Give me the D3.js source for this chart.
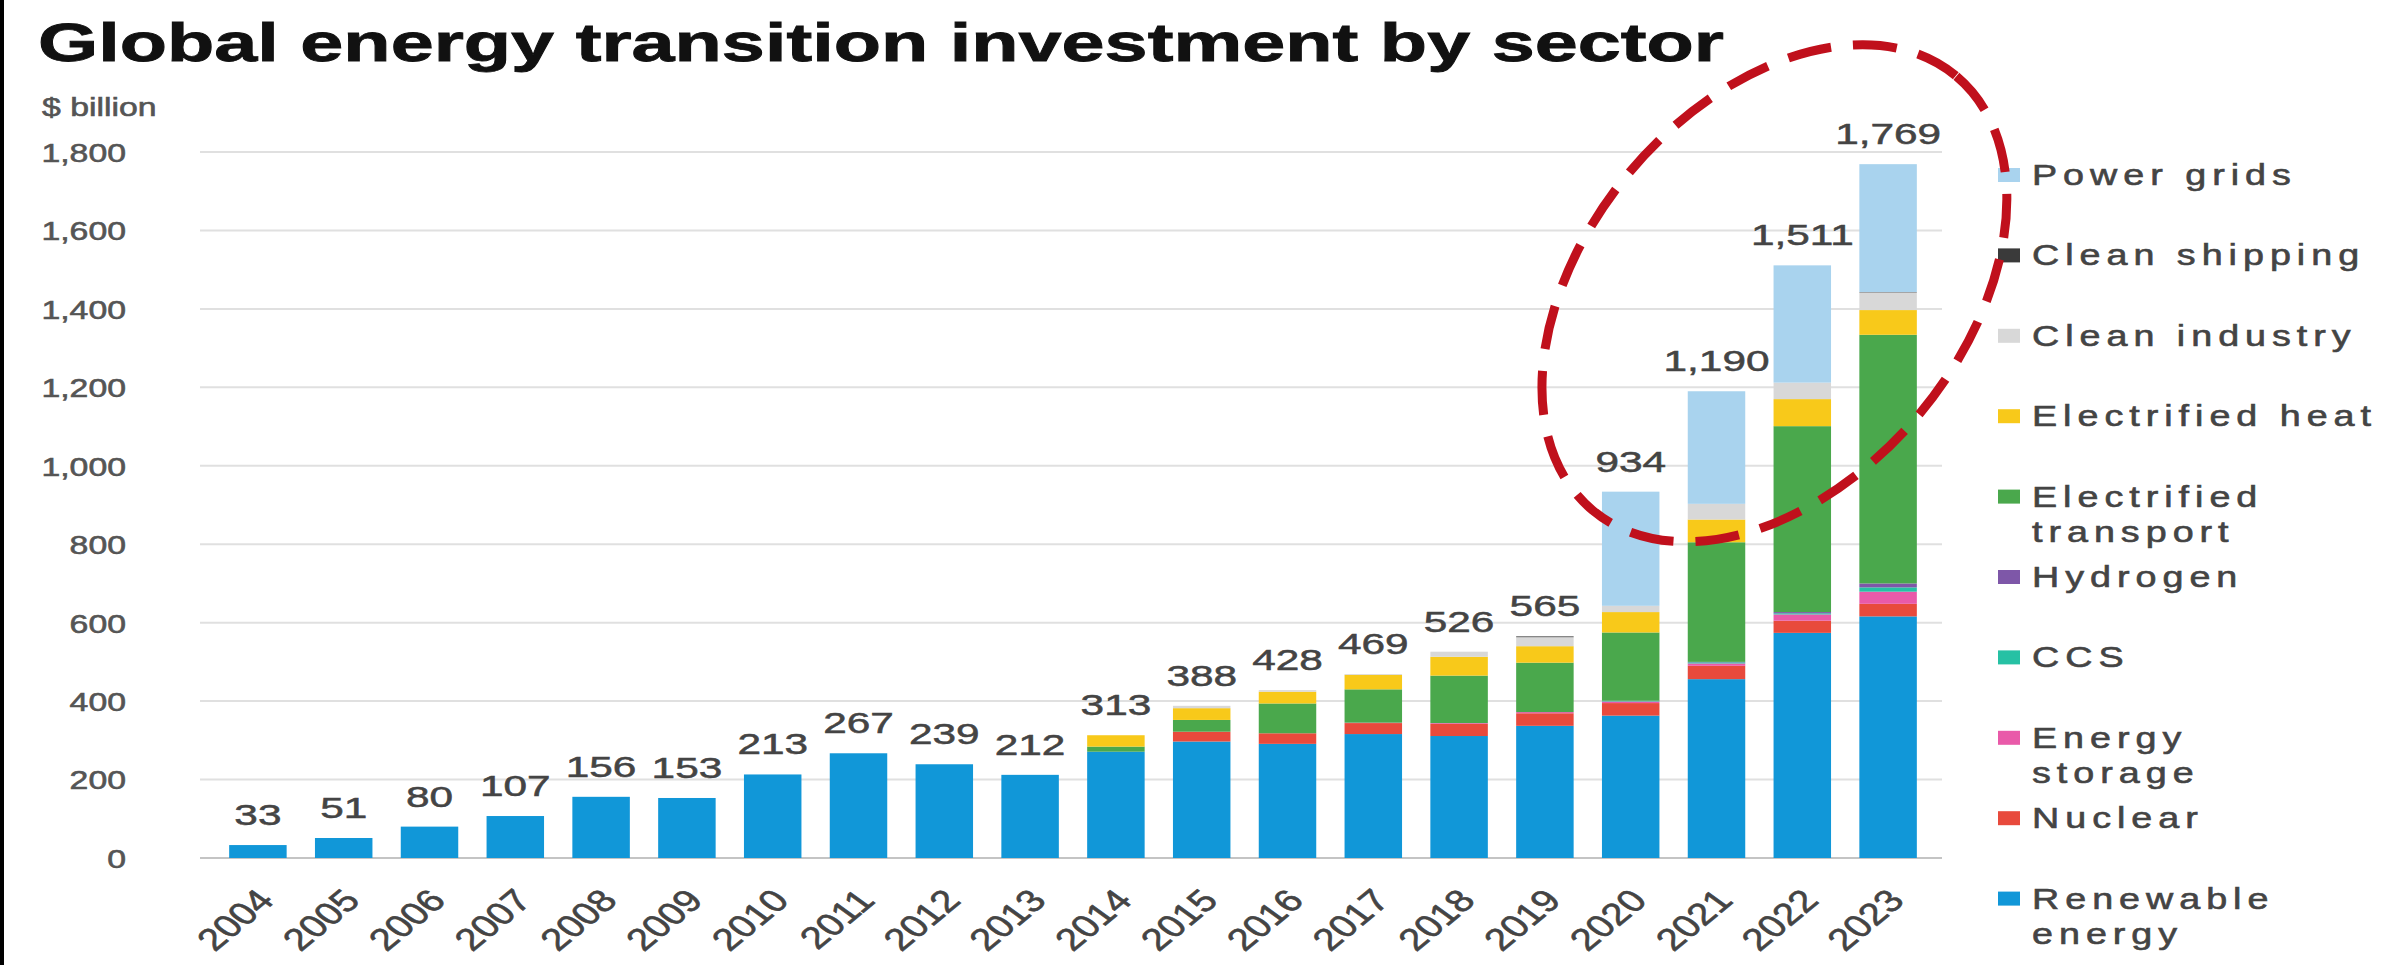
<!DOCTYPE html>
<html>
<head>
<meta charset="utf-8">
<script src="https://cdn.jsdelivr.net/npm/d3@7"></script>
<style>
  body { margin: 0; background: #fff; }
  svg { display: block; font-family: "Liberation Sans", Arial, sans-serif; }
</style>
</head>
<body>
<script>
// Data ($ billion)
const years = ["2004","2005","2006","2007","2008","2009","2010","2011","2012","2013",
               "2014","2015","2016","2017","2018","2019","2020","2021","2022","2023"];
const totals = [33,51,80,107,156,153,213,267,239,212,313,388,428,469,526,565,934,1190,1511,1769];

const renewable = [33,51,80,107,156,153,213,267,239,212,271,297,291,316,311,337,363,456,574,616];
const nuclear   = [0,0,0,0,0,0,0,0,0,0,0,25,27,28,31,32,32,34,31,32];
const storage   = [0,0,0,0,0,0,0,0,0,0,0,0,0,1,2,3,4,6,16,31];
const ccs       = [0,0,0,0,0,0,0,0,0,0,0,0,0,0,0,0,2,3,3,11];
const hydrogen  = [0,0,0,0,0,0,0,0,0,0,0,0,0,0,0,0,0,1,3,10];
const transport = [0,0,0,0,0,0,0,0,0,0,13,30,76,85,121,126,174,305,474,634];
const heat      = [0,0,0,0,0,0,0,0,0,0,29,30,30,37,48,42,52,58,69,63];
const industry  = [0,0,0,0,0,0,0,0,0,0,0,6,4,2,13,23,16,40,42,45];
const shipping  = [0,0,0,0,0,0,0,0,0,0,0,0,0,0,0,2,0,0,0,1];
const grids     = [0,0,0,0,0,0,0,0,0,0,0,0,0,0,0,0,291,287,299,326];

const yTicks = [0,200,400,600,800,1000,1200,1400,1600,1800];

// series, bottom of stack first
const seriesKeys = ["Renewable energy","Nuclear","Energy storage","CCS","Hydrogen",
                    "Electrified transport","Electrified heat","Clean industry","Clean shipping","Power grids"];
const seriesValues = [renewable, nuclear, storage, ccs, hydrogen, transport, heat, industry, shipping, grids];
const colors = ["#1197d8","#e84a3c","#e95aa9","#26c1a4","#7e57a8",
                "#4aa84c","#f8c91a","#d8d8d8","#3a3a3a","#a9d3ee"];

const W = 2407, H = 965;
const SX = 1.3; // the source picture is stretched sideways

const table = years.map((yr, i) => {
  const row = { year: yr };
  seriesKeys.forEach((k, j) => row[k] = seriesValues[j][i]);
  return row;
});

const svg = d3.select("body").append("svg")
  .attr("width", W)
  .attr("height", H);

svg.append("rect").attr("width", W).attr("height", H).attr("fill", "#fff");
svg.append("rect").attr("width", 4).attr("height", H).attr("fill", "#000");

const x = d3.scaleBand()
  .domain(years)
  .range([212, 1934])
  .paddingInner(0.33)
  .paddingOuter(0.2);

const y = d3.scaleLinear()
  .domain([0, 1800])
  .range([858, 152]);

// Title
svg.append("text")
  .attr("x", 38)
  .attr("y", 61)
  .attr("textLength", 1686)
  .attr("lengthAdjust", "spacingAndGlyphs")
  .style("font-size", "53px")
  .style("font-weight", "bold")
  .attr("fill", "#111")
  .attr("stroke", "#111")
  .attr("stroke-width", 0.8)
  .text("Global energy transition investment by sector");

// unit label
svg.append("text")
  .attr("transform", `translate(42,116) scale(${SX},1)`)
  .style("font-size", "26px")
  .attr("fill", "#555")
  .attr("stroke", "#555")
  .attr("stroke-width", 0.6)
  .text("$ billion");

// gridlines
svg.selectAll("line.grid")
  .data(yTicks)
  .join("line")
  .attr("class", "grid")
  .attr("x1", 200)
  .attr("x2", 1942)
  .attr("y1", d => y(d))
  .attr("y2", d => y(d))
  .attr("stroke", d => d === 0 ? "#c4c4c4" : "#e0e0e0")
  .attr("stroke-width", 2);

// y axis
const yAxis = svg.append("g")
  .attr("transform", "translate(126,0)")
  .call(d3.axisLeft(y).tickValues(yTicks).tickFormat(d3.format(",")).tickSize(0).tickPadding(0))
  .call(g => g.select(".domain").remove());
yAxis.selectAll(".tick text")
  .attr("x", 0)
  .attr("dy", "0.36em")
  .attr("transform", `scale(${SX},1)`)
  .style("font-size", "26px")
  .style("font-family", "'Liberation Sans', Arial, sans-serif")
  .attr("fill", "#555")
  .attr("stroke", "#555")
  .attr("stroke-width", 0.6);

// stacked bars
const stacked = d3.stack().keys(seriesKeys)(table);

svg.append("g")
  .selectAll("g")
  .data(stacked)
  .join("g")
  .attr("fill", (d, i) => colors[i])
  .selectAll("rect")
  .data(d => d)
  .join("rect")
  .attr("x", d => x(d.data.year))
  .attr("width", x.bandwidth())
  .attr("y", d => y(d[1]))
  .attr("height", d => y(d[0]) - y(d[1]));

// total labels
svg.append("g")
  .selectAll("text")
  .data(years)
  .join("text")
  .attr("transform", (d, i) => `translate(${x(d) + x.bandwidth() / 2},${y(totals[i]) - 20}) scale(1.46,1)`)
  .attr("text-anchor", "middle")
  .style("font-size", "29px")
  .attr("fill", "#444")
  .attr("stroke", "#444")
  .attr("stroke-width", 0.5)
  .text((d, i) => d3.format(",")(totals[i]));

// x axis
const xAxis = svg.append("g")
  .attr("transform", "translate(0,858)")
  .call(d3.axisBottom(x).tickSize(0))
  .call(g => g.select(".domain").remove());
xAxis.selectAll(".tick text")
  .attr("x", 0)
  .attr("y", 0)
  .attr("dy", 0)
  .attr("text-anchor", "end")
  .attr("transform", `translate(18,44) scale(${SX},1) rotate(-47)`)
  .style("font-size", "31px")
  .style("font-family", "'Liberation Sans', Arial, sans-serif")
  .attr("fill", "#444")
  .attr("stroke", "#444")
  .attr("stroke-width", 0.6);

// legend, top to bottom
const legendItems = seriesKeys.map((k, i) => ({ name: k, color: colors[i] })).reverse();
const legendLines = {
  "Electrified transport": ["Electrified", "transport"],
  "Energy storage": ["Energy", "storage"],
  "Renewable energy": ["Renewable", "energy"]
};

const legend = svg.append("g")
  .selectAll("g")
  .data(legendItems)
  .join("g")
  .attr("transform", (d, i) => `translate(1998,${175 + i * 80.4})`);

legend.append("rect")
  .attr("x", 0)
  .attr("y", -7)
  .attr("width", 22)
  .attr("height", 14)
  .attr("fill", d => d.color);

legend.each(function (d) {
  const lines = legendLines[d.name] || [d.name];
  lines.forEach((ln, j) => {
    d3.select(this).append("text")
      .attr("transform", `translate(34,${10 + j * 35}) scale(${SX},1)`)
      .style("font-size", "29px")
      .style("letter-spacing", "4.6px")
      .attr("fill", "#444")
      .attr("stroke", "#444")
      .attr("stroke-width", 0.6)
      .text(ln);
  });
});

// red dashed highlight round the last four years
const cx = (x("2020") + x("2023") + x.bandwidth()) / 2 + 15;
const cy = y(1440);
svg.append("ellipse")
  .attr("transform", `translate(${cx},${cy}) rotate(-50)`)
  .attr("rx", x.step() * 3.3)
  .attr("ry", x.step() * 2.2)
  .attr("fill", "none")
  .attr("stroke", "#c0101c")
  .attr("stroke-width", 9)
  .attr("stroke-dasharray", "44 22");
</script>
</body>
</html>
